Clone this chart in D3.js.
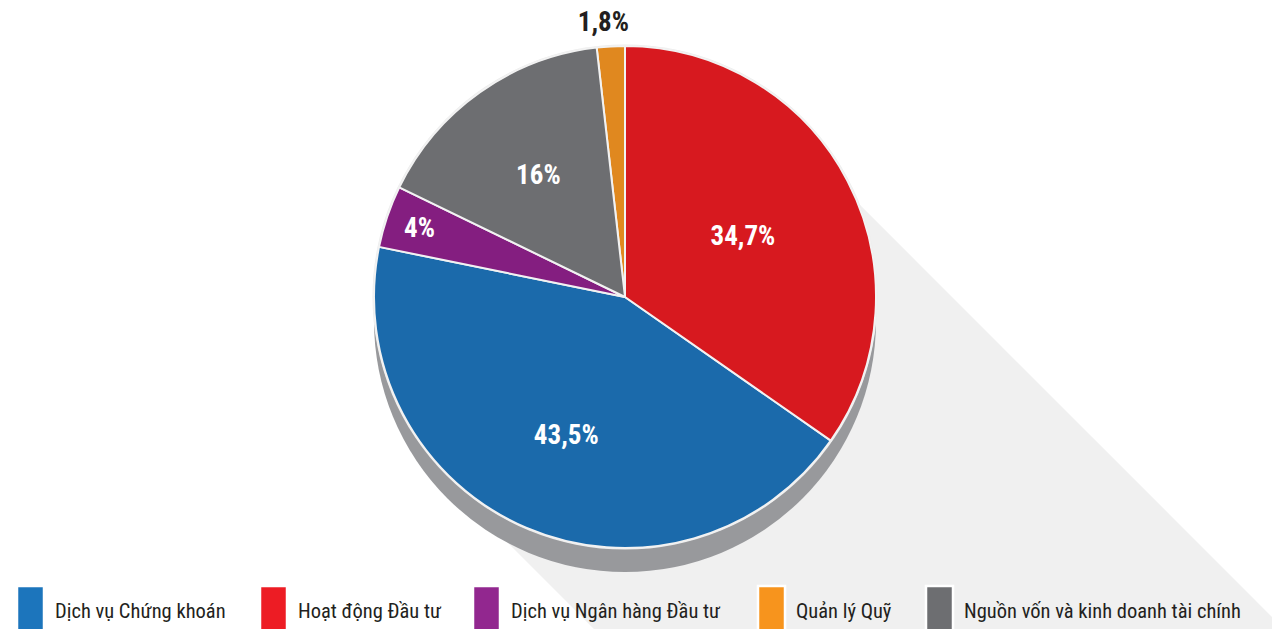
<!DOCTYPE html>
<html>
<head>
<meta charset="utf-8">
<script src="https://cdn.jsdelivr.net/npm/d3@7/dist/d3.min.js"></script>
<style>
html,body{margin:0;padding:0;background:#fff;}
svg{display:block;}
</style>
</head>
<body>
<svg id="chart" width="1272" height="629"></svg>
<script>
// ---- data (legend order) ----
const categories = ["Dịch vụ Chứng khoán", "Hoạt động Đầu tư", "Dịch vụ Ngân hàng Đầu tư", "Quản lý Quỹ", "Nguồn vốn và kinh doanh tài chính"];
const values = [43.5, 34.7, 4, 1.8, 16];
const valueLabels = ["43,5%", "34,7%", "4%", "1,8%", "16%"];
// order of slices clockwise from 12 o'clock
const pieOrder = ["Hoạt động Đầu tư", "Dịch vụ Chứng khoán", "Dịch vụ Ngân hàng Đầu tư", "Nguồn vốn và kinh doanh tài chính", "Quản lý Quỹ"];

// ---- styles ----
const sliceColors = ["#1b6aab", "#d7191f", "#841e80", "#e0881f", "#6d6e71"];
const legendColors = ["#1c75bc", "#ed1c24", "#92278f", "#f7941d", "#6d6e71"];
const labelRadius = [149, 133, 217, 276, 150];
const labelDx = [0, 0, 0, -6, 0];
const labelFill = ["#fff", "#fff", "#fff", "#231f20", "#fff"];
const legendX = [17, 260, 473, 758, 926];

const W = 1272, H = 629;
const cx = 625, cy = 297, R = 251, depth = 24;
const svg = d3.select("#chart");

const data = categories.map((c, i) => ({cat: c, value: values[i], i}));
const colorPie = d3.scaleOrdinal().domain(categories).range(sliceColors);
const colorLegend = d3.scaleOrdinal().domain(categories).range(legendColors);

// ---- long shadow ----
const scx = cx, scy = cy + 18, sr = 244;
const k = Math.SQRT1_2;
const t1 = [scx + sr * k, scy - sr * k], t2 = [scx - sr * k, scy + sr * k];
const far = 1500;
const shadowPath = `M${t1[0]},${t1[1]} L${t1[0] + far},${t1[1] + far} L${t2[0] + far},${t2[1] + far} L${t2[0]},${t2[1]}
  A${sr},${sr} 0 0 1 ${t1[0]},${t1[1]} Z`;
svg.append("path").attr("d", shadowPath).attr("fill", "#f0f0f0");

// ---- 3D side ----
svg.append("circle").attr("cx", cx).attr("cy", cy + depth).attr("r", R).attr("fill", "#98999c");
svg.append("circle").attr("cx", cx).attr("cy", cy).attr("r", R + 1.5).attr("fill", "#ececec");

// ---- pie ----
const pie = d3.pie().value(d => d.value)
  .sort((a, b) => pieOrder.indexOf(a.cat) - pieOrder.indexOf(b.cat));
const arcs = pie(data);
const arc = d3.arc().innerRadius(0).outerRadius(R);
const g = svg.append("g").attr("transform", `translate(${cx},${cy})`);
g.selectAll("path.slice").data(arcs).join("path")
  .attr("class", "slice")
  .attr("d", arc)
  .attr("fill", d => colorPie(d.data.cat))
  .attr("stroke", "#f2f2f2")
  .attr("stroke-width", 2)
  .attr("stroke-linejoin", "round");

// ---- labels ----
const FONT = "'Liberation Sans Narrow', 'Roboto Condensed', 'DejaVu Sans Condensed', 'Liberation Sans', sans-serif";
g.selectAll("text.lbl").data(arcs).join("text")
  .attr("class", "lbl")
  .attr("transform", d => {
    const a = (d.startAngle + d.endAngle) / 2;
    const r = labelRadius[d.data.i];
    return `translate(${r * Math.sin(a) + labelDx[d.data.i]},${-r * Math.cos(a)})`;
  })
  .attr("text-anchor", "middle")
  .attr("dy", "0.36em")
  .attr("font-family", FONT)
  .attr("font-weight", "bold")
  .attr("font-size", 27)
  .attr("fill", d => labelFill[d.data.i])
  .text(d => valueLabels[d.data.i]);

// ---- legend ----
const lg = svg.append("g");
const items = lg.selectAll("g.item").data(data).join("g")
  .attr("class", "item")
  .attr("transform", d => `translate(${legendX[d.i]},0)`);
items.append("rect")
  .attr("x", 0).attr("y", 586).attr("width", 27).attr("height", 50)
  .attr("fill", d => colorLegend(d.cat))
  .attr("stroke", "#fff").attr("stroke-width", 2.5);
items.append("text")
  .attr("x", 38).attr("y", 618)
  .attr("font-family", FONT)
  .attr("font-size", 20.5)
  .attr("fill", "#231f20")
  .text(d => d.cat);
</script>
</body>
</html>
